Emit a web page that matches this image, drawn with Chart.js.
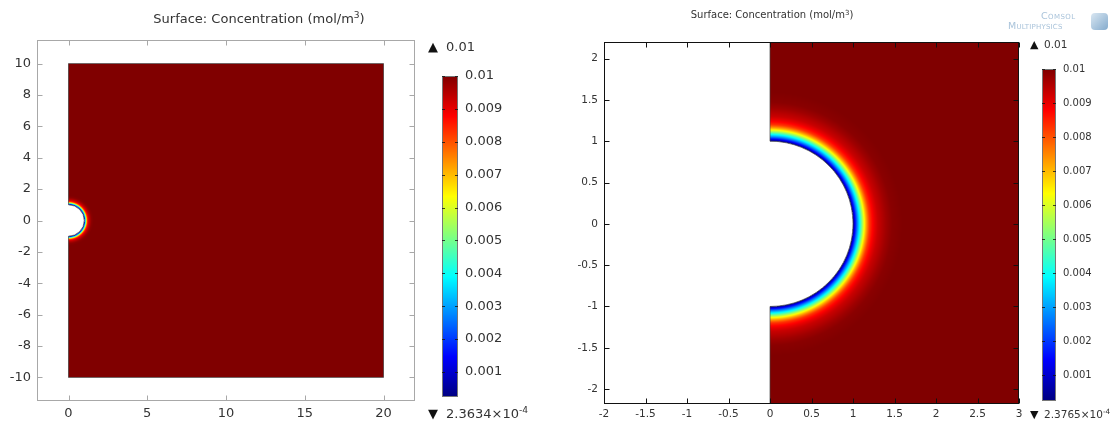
<!DOCTYPE html>
<html><head><meta charset="utf-8">
<script src="https://cdn.jsdelivr.net/npm/chart.js@4.4.1/dist/chart.umd.min.js"></script>
<style>
html,body{margin:0;padding:0;background:#fff;}
#wrap{position:relative;width:1119px;height:421px;overflow:hidden;background:#fff;font-family:"DejaVu Sans",sans-serif;color:#333;}
canvas{position:absolute;top:0;}
.t{position:absolute;white-space:nowrap;line-height:1;transform:translateY(-50%);}
.c{transform:translate(-50%,-50%);}
sup{font-size:0.7em;vertical-align:0.5em;line-height:0;}
</style></head><body>
<div id="wrap">
  <canvas id="surfL" style="left:0px" width="430" height="421"></canvas>
  <canvas id="barL" style="left:420px" width="120" height="421"></canvas>
  <canvas id="surfR" style="left:560px" width="470" height="421"></canvas>
  <canvas id="barR" style="left:1025px" width="94" height="421"></canvas>

  <div class="t c" style="left:259px;top:18px;font-size:13px;">Surface: Concentration (mol/m<sup>3</sup>)</div>
  <div class="t c" style="left:772px;top:15px;font-size:10px;">Surface: Concentration (mol/m<sup>3</sup>)</div>

  <div class="t" style="left:428px;top:46px;font-size:13px;color:#111;">&#9650;</div>
  <div class="t" style="left:446px;top:46px;font-size:13px;">0.01</div>
  <div class="t" style="left:428px;top:413px;font-size:13px;color:#111;">&#9660;</div>
  <div class="t" style="left:446px;top:413px;font-size:13px;">2.3634×10<sup>-4</sup></div>

  <div class="t" style="left:1030px;top:44px;font-size:11px;color:#111;">&#9650;</div>
  <div class="t" style="left:1044px;top:44px;font-size:10.5px;">0.01</div>
  <div class="t" style="left:1030px;top:414px;font-size:11px;color:#111;">&#9660;</div>
  <div class="t" style="left:1044px;top:414px;font-size:10.5px;">2.3765×10<sup>-4</sup></div>

  <div class="t" style="left:1041px;top:16px;font-size:9.5px;color:#a9c3da;letter-spacing:0.4px;font-variant:small-caps;">Comsol</div>
  <div class="t" style="left:1008px;top:26px;font-size:9.5px;color:#a9c3da;letter-spacing:0.2px;font-variant:small-caps;">Multiphysics</div>
  <div style="position:absolute;left:1091px;top:13px;width:17px;height:17px;border-radius:4px;background:linear-gradient(135deg,#d3e3f0,#6f9cc4);opacity:0.85;"></div>
</div>
<script>
// ---- data ----
const radiusFromCentre = [1.00, 1.02, 1.04, 1.06, 1.08, 1.10, 1.12, 1.14, 1.16, 1.18, 1.20, 1.23, 1.26, 1.30, 1.35, 1.40, 1.47, 1.60, 30];
const concentration    = [0.000237, 0.0012, 0.0022, 0.0031, 0.0039, 0.0048, 0.0057, 0.0065, 0.0072, 0.0078, 0.0083, 0.0087, 0.0090, 0.0093, 0.0095, 0.0097, 0.0099, 0.0100, 0.0100];
const domainX = [0, 20];
const domainY = [-10, 10];
const holeRadius = [1];
const leftXTicks  = [0, 5, 10, 15, 20];
const leftYTicks  = [-10, -8, -6, -4, -2, 0, 2, 4, 6, 8, 10];
const rightXTicks = [-2, -1.5, -1, -0.5, 0, 0.5, 1, 1.5, 2, 2.5, 3];
const rightYTicks = [-2, -1.5, -1, -0.5, 0, 0.5, 1, 1.5, 2];
const colorTicks  = [0.001, 0.002, 0.003, 0.004, 0.005, 0.006, 0.007, 0.008, 0.009, 0.01];
const leftColorRange  = [2.3634e-4, 0.01];
const rightColorRange = [2.3765e-4, 0.01];

const FONT = 'DejaVu Sans';
const TXT = '#333';

function clamp01(v){ return v < 0 ? 0 : (v > 1 ? 1 : v); }
function jet(t){
  t = clamp01(t);
  return [clamp01(1.5 - Math.abs(4*t - 3)) * 255,
          clamp01(1.5 - Math.abs(4*t - 2)) * 255,
          clamp01(1.5 - Math.abs(4*t - 1)) * 255];
}
function profile(r){
  if (r <= radiusFromCentre[0]) return concentration[0];
  for (let i = 1; i < radiusFromCentre.length; i++) {
    if (r <= radiusFromCentre[i]) {
      const r0 = radiusFromCentre[i-1], r1 = radiusFromCentre[i];
      const f = (r - r0) / (r1 - r0);
      return concentration[i-1] + f * (concentration[i] - concentration[i-1]);
    }
  }
  return concentration[concentration.length - 1];
}

function fieldPlugin(cmin, cmax){
  return {
    id: 'field',
    beforeDatasetsDraw(chart){
      const {ctx, chartArea: a, scales: {x, y}} = chart;
      const w = Math.round(a.right - a.left), h = Math.round(a.bottom - a.top);
      const off = document.createElement('canvas'); off.width = w; off.height = h;
      const octx = off.getContext('2d');
      const img = octx.createImageData(w, h);
      const S = 3;
      const xs = [], ys = [];
      for (let i = 0; i < w * S; i++) xs.push(x.getValueForPixel(a.left + (i + 0.5) / S));
      for (let j = 0; j < h * S; j++) ys.push(y.getValueForPixel(a.top + (j + 0.5) / S));
      for (let j = 0; j < h; j++) {
        for (let i = 0; i < w; i++) {
          let r = 0, g = 0, b = 0, cov = 0;
          for (let sj = 0; sj < S; sj++) {
            const vy = ys[j*S + sj];
            if (vy < domainY[0] || vy > domainY[1]) continue;
            for (let si = 0; si < S; si++) {
              const vx = xs[i*S + si];
              if (vx < domainX[0] || vx > domainX[1]) continue;
              const rad = Math.hypot(vx, vy);
              if (rad < holeRadius[0]) continue;
              const col = jet((profile(rad) - cmin) / (cmax - cmin));
              r += col[0]; g += col[1]; b += col[2]; cov++;
            }
          }
          const k = (j * w + i) * 4;
          if (cov) {
            img.data[k] = r / cov; img.data[k+1] = g / cov; img.data[k+2] = b / cov;
            img.data[k+3] = 255 * cov / (S * S);
          }
        }
      }
      octx.putImageData(img, 0, 0);
      ctx.drawImage(off, a.left, a.top);
      // domain boundary
      ctx.save();
      ctx.beginPath(); ctx.rect(a.left, a.top, a.right - a.left, a.bottom - a.top); ctx.clip();
      const px = v => x.getPixelForValue(v), py = v => y.getPixelForValue(v);
      const R = holeRadius[0];
      ctx.beginPath();
      ctx.moveTo(px(domainX[0]), py(R));
      ctx.lineTo(px(domainX[0]), py(domainY[1]));
      ctx.lineTo(px(domainX[1]), py(domainY[1]));
      ctx.lineTo(px(domainX[1]), py(domainY[0]));
      ctx.lineTo(px(domainX[0]), py(domainY[0]));
      ctx.lineTo(px(domainX[0]), py(-R));
      ctx.ellipse(px(0), py(0), Math.abs(px(R) - px(0)), Math.abs(py(R) - py(0)), 0, Math.PI/2, -Math.PI/2, true);
      ctx.strokeStyle = 'rgba(70,70,70,0.7)';
      ctx.lineWidth = 1;
      ctx.stroke();
      ctx.restore();
    }
  };
}

function framePlugin(color, len){
  return {
    id: 'frame',
    afterDraw(chart){
      const {ctx, chartArea: a, scales: {x, y}} = chart;
      ctx.save();
      ctx.strokeStyle = color; ctx.lineWidth = 1;
      const L = Math.round(a.left) + 0.5, R = Math.round(a.right) - 0.5;
      const T = Math.round(a.top) + 0.5, B = Math.round(a.bottom) - 0.5;
      ctx.strokeRect(L, T, R - L, B - T);
      ctx.beginPath();
      x.ticks.forEach(t => {
        const p = Math.round(x.getPixelForValue(t.value)) + 0.5;
        ctx.moveTo(p, B); ctx.lineTo(p, B - len);
        ctx.moveTo(p, T); ctx.lineTo(p, T + len);
      });
      y.ticks.forEach(t => {
        const p = Math.round(y.getPixelForValue(t.value)) + 0.5;
        ctx.moveTo(L, p); ctx.lineTo(L + len, p);
        ctx.moveTo(R, p); ctx.lineTo(R - len, p);
      });
      ctx.stroke();
      ctx.restore();
    }
  };
}

function makeSurface(id, c){
  return new Chart(document.getElementById(id), {
    type: 'scatter',
    data: { datasets: [{ data: [] }] },
    options: {
      responsive: false, animation: false, devicePixelRatio: 1,
      layout: { padding: c.padding },
      plugins: { legend: { display: false }, tooltip: { enabled: false } },
      scales: {
        x: {
          type: 'linear', min: c.xmin, max: c.xmax,
          afterBuildTicks: s => { s.ticks = c.xticks.map(v => ({ value: v })); },
          afterFit: s => { s.height = c.xh; s.paddingLeft = 0; s.paddingRight = 0; },
          grid: { display: false, drawTicks: false }, border: { display: false },
          ticks: { autoSkip: false, maxRotation: 0, padding: c.xpad, color: TXT,
                   font: { family: FONT, size: c.fs }, callback: v => String(v) }
        },
        y: {
          type: 'linear', min: c.ymin, max: c.ymax,
          afterBuildTicks: s => { s.ticks = c.yticks.map(v => ({ value: v })); },
          afterFit: s => { s.width = c.yw; s.paddingTop = 0; s.paddingBottom = 0; },
          grid: { display: false, drawTicks: false }, border: { display: false },
          ticks: { autoSkip: false, padding: c.ypad, color: TXT,
                   font: { family: FONT, size: c.fs }, callback: v => String(v) }
        }
      }
    },
    plugins: [fieldPlugin(c.crange[0], c.crange[1]), framePlugin(c.frame, c.tickLen)]
  });
}

function barPlugin(){
  return {
    id: 'cbar',
    beforeDatasetsDraw(chart){
      const {ctx, chartArea: a, scales: {y}} = chart;
      const lo = y.min, hi = y.max;
      for (let p = Math.floor(a.top); p < Math.ceil(a.bottom); p++) {
        const v = y.getValueForPixel(p + 0.5);
        const col = jet((v - lo) / (hi - lo));
        ctx.fillStyle = 'rgb(' + col.map(Math.round).join(',') + ')';
        ctx.fillRect(a.left, p, a.right - a.left, 1);
      }
      ctx.save();
      ctx.strokeStyle = '#777'; ctx.lineWidth = 1;
      ctx.strokeRect(a.left + 0.5, a.top + 0.5, a.right - a.left - 1, a.bottom - a.top - 1);
      ctx.strokeStyle = 'rgba(20,20,20,0.8)';
      ctx.beginPath();
      y.ticks.forEach(t => {
        const p = Math.round(y.getPixelForValue(t.value)) + 0.5;
        ctx.moveTo(a.left, p); ctx.lineTo(a.left + 3, p);
        ctx.moveTo(a.right, p); ctx.lineTo(a.right - 3, p);
      });
      ctx.stroke();
      ctx.restore();
    }
  };
}

function makeColorbar(id, c){
  return new Chart(document.getElementById(id), {
    type: 'scatter',
    data: { datasets: [{ data: [] }] },
    options: {
      responsive: false, animation: false, devicePixelRatio: 1,
      layout: { padding: c.padding },
      plugins: { legend: { display: false }, tooltip: { enabled: false } },
      scales: {
        x: { display: false },
        y: {
          position: 'right', min: c.range[0], max: c.range[1],
          afterBuildTicks: s => { s.ticks = colorTicks.map(v => ({ value: v })); },
          afterFit: s => { s.width = c.yw; s.paddingTop = 0; s.paddingBottom = 0; },
          grid: { display: false, drawTicks: false }, border: { display: false },
          ticks: { autoSkip: false, padding: c.pad, color: TXT,
                   font: { family: FONT, size: c.fs }, callback: v => String(parseFloat(Number(v).toFixed(4))) }
        }
      }
    },
    plugins: [barPlugin()]
  });
}

makeSurface('surfL', {
  padding: { left: 0, top: 40, right: 15, bottom: 0 },
  xmin: -2, xmax: 22, ymin: -11.5, ymax: 11.5,
  xticks: leftXTicks, yticks: leftYTicks,
  xh: 20, yw: 37, xpad: 5, ypad: 6, fs: 13,
  crange: leftColorRange, frame: '#a8a8a8', tickLen: 5
});
makeSurface('surfR', {
  padding: { left: 0, top: 42, right: 11, bottom: 0 },
  xmin: -2, xmax: 3, ymin: -2.18, ymax: 2.2,
  xticks: rightXTicks, yticks: rightYTicks,
  xh: 17, yw: 44, xpad: 4, ypad: 6, fs: 10.5,
  crange: rightColorRange, frame: '#111', tickLen: 5
});
makeColorbar('barL', {
  padding: { left: 22, top: 76, right: 0, bottom: 24 },
  range: leftColorRange, yw: 82, pad: 7, fs: 13
});
makeColorbar('barR', {
  padding: { left: 17, top: 69, right: 0, bottom: 20 },
  range: rightColorRange, yw: 63, pad: 7, fs: 10
});
</script>
</body></html>
